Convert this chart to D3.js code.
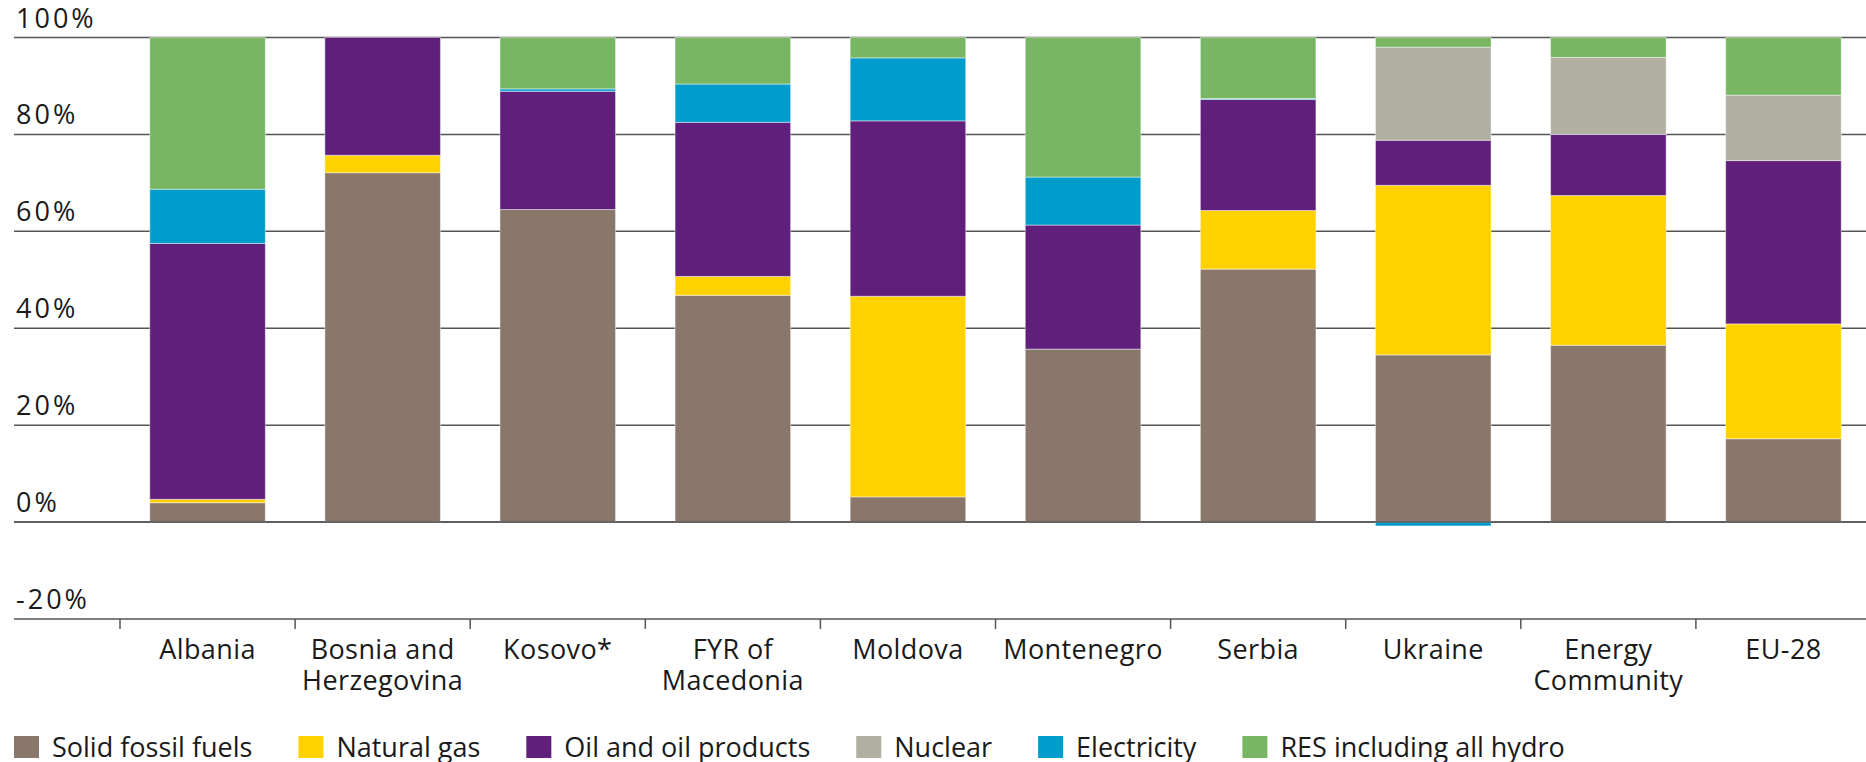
<!DOCTYPE html>
<html>
<head>
<meta charset="utf-8">
<script src="https://cdn.jsdelivr.net/npm/d3@7"></script>
<style>
  body { margin: 0; background: #fff; }
  svg text { font-family: "Open Sans", sans-serif; fill: #1a1a1a; }
</style>
</head>
<body>
<svg></svg>
<script>
var width = 1866;
var height = 762;

// data, shares in %
var countries = ['Albania', 'Bosnia and|Herzegovina', 'Kosovo*', 'FYR of|Macedonia', 'Moldova',
  'Montenegro', 'Serbia', 'Ukraine', 'Energy|Community', 'EU-28'];
var fuels = ['Solid fossil fuels', 'Natural gas', 'Oil and oil products', 'Nuclear', 'Electricity', 'RES including all hydro'];
var solid   = [4.0, 72.1, 64.5, 46.8, 5.2, 35.7, 52.2, 34.5, 36.5, 17.2];
var gas     = [0.7, 3.6, 0, 3.9, 41.4, 0, 12.1, 35.0, 30.9, 23.7];
var oil     = [52.8, 24.3, 24.4, 31.8, 36.2, 25.6, 22.9, 9.3, 12.6, 33.7];
var nuclear = [0, 0, 0, 0, 0, 0, 0, 19.2, 15.9, 13.5];
var elec    = [11.2, 0, 0.5, 7.9, 13.0, 9.9, 0.2, -0.8, 0, 0];
var res     = [31.3, 0, 10.6, 9.6, 4.2, 28.8, 12.6, 2.0, 4.1, 11.9];
var yTicks = [-20, 0, 20, 40, 60, 80, 100];

var colors = ['#8a776c', '#ffd200', '#5f1f7a', '#b1afa2', '#009dcc', '#78b663'];
var series = [solid, gas, oil, nuclear, elec, res];

var rows = countries.map(function(c, i) {
  var r = { country: c };
  fuels.forEach(function(f, j) { r[f] = series[j][i]; });
  return r;
});

var svg = d3.select('svg')
  .attr('width', width)
  .attr('height', height);

var x = d3.scaleBand()
  .domain(countries)
  .range([120, 1871])
  .paddingInner(0.34)
  .paddingOuter(0.17);

var y = d3.scaleLinear()
  .domain([-20, 100])
  .range([619, 37.5]);

var color = d3.scaleOrdinal().domain(fuels).range(colors);

// gridlines
svg.append('g')
  .selectAll('line')
  .data(yTicks)
  .enter().append('line')
    .attr('x1', 14)
    .attr('x2', width)
    .attr('y1', d => y(d))
    .attr('y2', d => y(d))
    .attr('stroke', '#555')
    .attr('stroke-width', 1.5);

svg.append('g')
  .selectAll('text')
  .data(yTicks)
  .enter().append('text')
    .attr('x', 16)
    .attr('y', d => y(d) - 10)
    .attr('font-size', 27)
    .attr('letter-spacing', 3)
    .text(d => d + '%');

// stacked bars
var stack = d3.stack().keys(fuels).offset(d3.stackOffsetDiverging);
var layers = stack(rows);

svg.append('g')
  .selectAll('g')
  .data(layers)
  .enter().append('g')
    .attr('fill', d => color(d.key))
  .selectAll('rect')
  .data(d => d.filter(p => p[1] !== p[0]))
  .enter().append('rect')
    .attr('x', d => x(d.data.country))
    .attr('width', x.bandwidth())
    .attr('y', d => y(Math.max(d[0], d[1])))
    .attr('height', d => Math.abs(y(d[0]) - y(d[1])))
    .attr('stroke', 'rgba(255,255,255,0.45)')
    .attr('stroke-width', 1);

// zero line on top of bars
svg.append('line')
  .attr('x1', 14)
  .attr('x2', width)
  .attr('y1', y(0))
  .attr('y2', y(0))
  .attr('stroke', '#555')
  .attr('stroke-width', 1.5);

// category ticks
var step = x.step();
var bounds = countries.map(c => x(c) - step * x.paddingInner() / 2);
bounds.push(bounds[bounds.length - 1] + step);

svg.append('g')
  .selectAll('line')
  .data(bounds)
  .enter().append('line')
    .attr('x1', d => d)
    .attr('x2', d => d)
    .attr('y1', y(-20))
    .attr('y2', y(-20) + 10)
    .attr('stroke', '#555')
    .attr('stroke-width', 1.5);

var labels = svg.append('g')
  .selectAll('text')
  .data(countries)
  .enter().append('text')
    .attr('text-anchor', 'middle')
    .attr('font-size', 27)
    .attr('letter-spacing', 0.4)
    .attr('x', d => x(d) + x.bandwidth() / 2)
    .attr('y', y(-20) + 40);

labels.selectAll('tspan')
  .data(d => d.split('|'))
  .enter().append('tspan')
    .attr('x', function() { return d3.select(this.parentNode).attr('x'); })
    .attr('dy', (d, i) => i === 0 ? 0 : 31)
    .text(d => d);

// legend
var legend = svg.append('g').attr('transform', 'translate(14,736)');
var lx = 0;
fuels.forEach(function(f) {
  var item = legend.append('g').attr('transform', 'translate(' + lx + ',0)');
  item.append('rect')
    .attr('width', 25)
    .attr('height', 22)
    .attr('fill', color(f));
  var t = item.append('text')
    .attr('x', 38)
    .attr('y', 21)
    .attr('font-size', 27)
    .text(f);
  lx += 38 + t.node().getComputedTextLength() + 46;
});
</script>
</body>
</html>
